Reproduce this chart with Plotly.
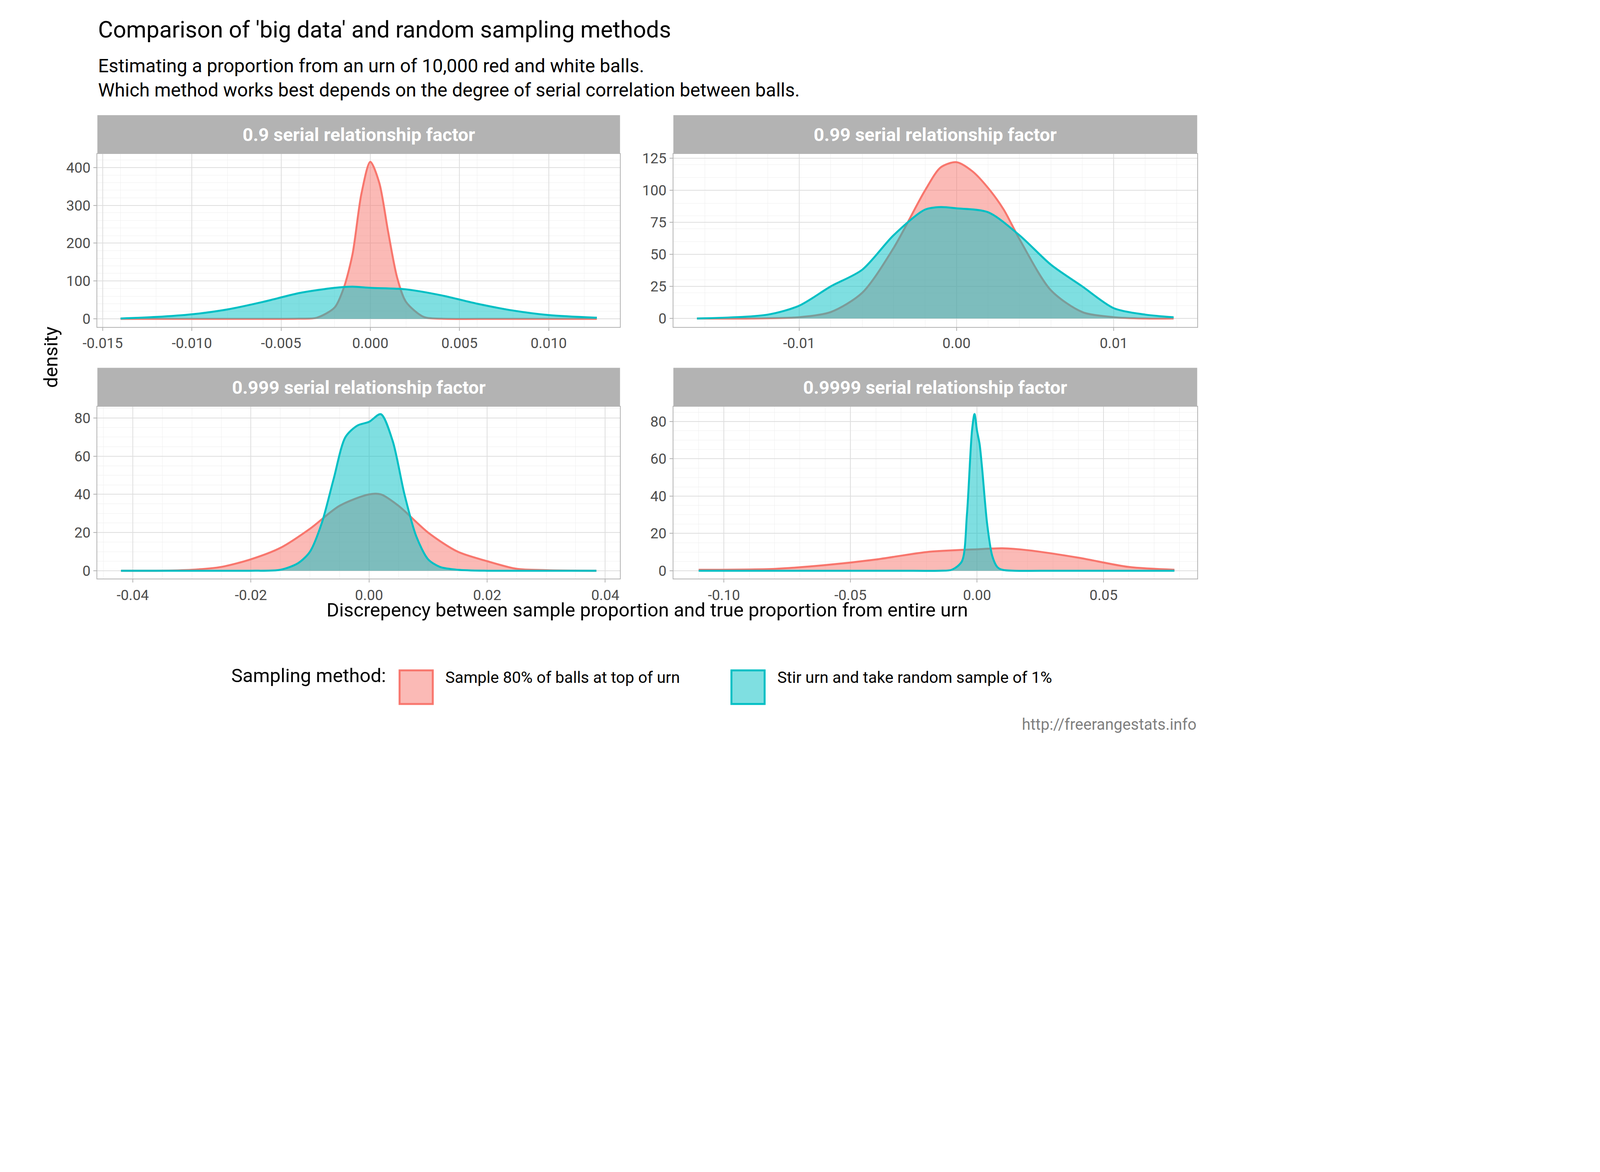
import plotly.graph_objects as go

# panel titles
panels = ["0.9 serial relationship factor", "0.99 serial relationship factor",
          "0.999 serial relationship factor", "0.9999 serial relationship factor"]

# red series: sample 80% of balls at top of urn
red_x = [
    [-0.014, -0.01, -0.006, -0.004, -0.003, -0.002, -0.0015, -0.001, -0.0005, 0, 0.0005, 0.001, 0.0015, 0.002, 0.003, 0.004, 0.007, 0.01, 0.0127],
    [-0.0165, -0.013, -0.01, -0.008, -0.006, -0.004, -0.002, -0.001, 0, 0.001, 0.002, 0.003, 0.004, 0.006, 0.008, 0.01, 0.012, 0.0138],
    [-0.042, -0.036, -0.03, -0.025, -0.02, -0.015, -0.01, -0.005, 0, 0.002, 0.005, 0.01, 0.015, 0.02, 0.025, 0.03, 0.0385],
    [-0.11, -0.08, -0.06, -0.04, -0.02, 0, 0.01, 0.02, 0.04, 0.06, 0.078],
]
red_y = [
    [0, 0, 0, 0.5, 3, 30, 80, 170, 330, 415, 360, 230, 110, 45, 5, 0.5, 0, 0, 0],
    [0, 0, 1, 5, 20, 55, 100, 118, 122, 115, 102, 85, 62, 22, 5, 1, 0, 0],
    [0, 0, 0.5, 2, 6, 12, 22, 34, 40, 40, 34, 20, 10, 5, 1, 0.3, 0],
    [0.5, 1, 3, 6, 10, 11.5, 12, 11, 7, 2, 0.5],
]
# blue series: stir urn and take random sample of 1%
blue_x = [
    [-0.014, -0.012, -0.010, -0.008, -0.006, -0.004, -0.002, -0.001, 0, 0.002, 0.004, 0.006, 0.008, 0.010, 0.0127],
    [-0.0165, -0.012, -0.01, -0.008, -0.006, -0.004, -0.002, -0.001, 0, 0.002, 0.004, 0.006, 0.008, 0.01, 0.012, 0.0138],
    [-0.042, -0.035, -0.028, -0.02, -0.015, -0.012, -0.01, -0.008, -0.006, -0.004, -0.002, 0, 0.002, 0.004, 0.006, 0.008, 0.01, 0.012, 0.015, 0.02, 0.028, 0.0385],
    [-0.11, -0.09, -0.07, -0.05, -0.03, -0.015, -0.01, -0.006, -0.004, -0.002, -0.001, 0, 0.001, 0.002, 0.004, 0.006, 0.008, 0.01, 0.015, 0.03, 0.05, 0.078],
]
blue_y = [
    [1, 5, 12, 25, 45, 68, 82, 85, 82, 78, 62, 40, 22, 10, 3],
    [0, 3, 10, 25, 38, 65, 85, 87, 86, 83, 65, 42, 25, 8, 3, 1],
    [0, 0, 0, 0, 0.5, 4, 10, 25, 48, 70, 76, 78, 82, 68, 40, 18, 6, 2, 0.5, 0, 0, 0],
    [0, 0, 0, 0, 0, 0, 0.5, 5, 30, 75, 84, 75, 68, 55, 25, 8, 2, 0.5, 0, 0, 0, 0],
]

x_tickvals = [[-0.015, -0.01, -0.005, 0, 0.005, 0.01], [-0.01, 0, 0.01],
              [-0.04, -0.02, 0, 0.02, 0.04], [-0.10, -0.05, 0, 0.05]]
x_ticktext = [["-0.015", "-0.010", "-0.005", "0.000", "0.005", "0.010"], ["-0.01", "0.00", "0.01"],
              ["-0.04", "-0.02", "0.00", "0.02", "0.04"], ["-0.10", "-0.05", "0.00", "0.05"]]
x_ranges = [[-0.0153, 0.014], [-0.018, 0.0153], [-0.046, 0.0425], [-0.12, 0.087]]
y_tickvals = [[0, 100, 200, 300, 400], [0, 25, 50, 75, 100, 125], [0, 20, 40, 60, 80], [0, 20, 40, 60, 80]]
y_ranges = [[-21, 436], [-6.5, 128.5], [-4.2, 86], [-4.3, 88]]

RED = "#F8766D"
BLUE = "#00BFC4"
FONT = "Roboto"

xdom = [[0.067, 0.508], [0.553, 0.995]]
ydom = [[0.571, 0.803], [0.233, 0.464]]

fig = go.Figure()
layout = {}
for i in range(4):
    r, c = divmod(i, 2)
    n = "" if i == 0 else str(i + 1)
    for xs, ys, col, fillc in [(red_x[i], red_y[i], RED, "rgba(248,118,109,0.5)"),
                               (blue_x[i], blue_y[i], BLUE, "rgba(0,191,196,0.5)")]:
        fig.add_trace(go.Scatter(x=xs, y=ys, mode="lines",
                                 line=dict(color=col, width=5, shape="spline", smoothing=0.8),
                                 fill="tozeroy", fillcolor=fillc, showlegend=False,
                                 xaxis="x" + n, yaxis="y" + n))
    axcommon = dict(showline=True, mirror=True, linecolor="#b3b3b3", linewidth=2,
                    gridcolor="#dedede", gridwidth=2, zeroline=False, ticks="outside",
                    ticklen=8, tickwidth=2, tickcolor="#b3b3b3",
                    tickfont=dict(family=FONT, size=37, color="#4d4d4d"),
                    minor=dict(showgrid=True, gridcolor="#efefef", gridwidth=1))
    layout["xaxis" + n] = dict(axcommon, domain=xdom[c], anchor="y" + n, range=x_ranges[i],
                               tickvals=x_tickvals[i], ticktext=x_ticktext[i])
    layout["yaxis" + n] = dict(axcommon, domain=ydom[r], anchor="x" + n, range=y_ranges[i],
                               tickvals=y_tickvals[i])

shapes = []
annotations = []
for i in range(4):
    r, c = divmod(i, 2)
    y0 = ydom[r][1]
    shapes.append(dict(type="rect", xref="paper", yref="paper", x0=xdom[c][0], x1=xdom[c][1],
                       y0=y0, y1=y0 + 0.052, fillcolor="#b3b3b3", line=dict(width=0)))
    annotations.append(dict(text="<b>" + panels[i] + "</b>", xref="paper", yref="paper",
                            x=(xdom[c][0] + xdom[c][1]) / 2, y=y0 + 0.026, showarrow=False,
                            xanchor="center", yanchor="middle",
                            font=dict(family=FONT, size=47, color="white")))

annotations += [
    dict(text="Comparison of 'big data' and random sampling methods", xref="paper", yref="paper",
         x=0.067, y=0.97, xanchor="left", yanchor="middle", showarrow=False,
         font=dict(family=FONT, size=59, color="black")),
    dict(text="Estimating a proportion from an urn of 10,000 red and white balls.<br>"
              "Which method works best depends on the degree of serial correlation between balls.",
         xref="paper", yref="paper", x=0.067, y=0.905, xanchor="left", yanchor="middle",
         showarrow=False, align="left", font=dict(family=FONT, size=48, color="black")),
    dict(text="density", xref="paper", yref="paper", x=0.018, y=0.53, textangle=-90,
         showarrow=False, font=dict(family=FONT, size=49, color="black")),
    dict(text="Discrepency between sample proportion and true proportion from entire urn",
         xref="paper", yref="paper", x=0.531, y=0.175, showarrow=False,
         font=dict(family=FONT, size=49, color="black")),
    dict(text="Sampling method:", xref="paper", yref="paper", x=0.311, y=0.087, xanchor="right",
         showarrow=False, font=dict(family=FONT, size=49, color="black")),
    dict(text="Sample 80% of balls at top of urn", xref="paper", yref="paper", x=0.36, y=0.087,
         xanchor="left", showarrow=False, font=dict(family=FONT, size=41, color="black")),
    dict(text="Stir urn and take random sample of 1%", xref="paper", yref="paper", x=0.64, y=0.087,
         xanchor="left", showarrow=False, font=dict(family=FONT, size=41, color="black")),
    dict(text="http://freerangestats.info", xref="paper", yref="paper", x=0.995, y=0.024,
         xanchor="right", showarrow=False, font=dict(family=FONT, size=40, color="#7f7f7f")),
]
for x0, col, fillc in [(0.322, RED, "rgba(248,118,109,0.5)"), (0.602, BLUE, "rgba(0,191,196,0.5)")]:
    shapes.append(dict(type="rect", xref="paper", yref="paper", x0=x0, x1=x0 + 0.028,
                       y0=0.065, y1=0.11, fillcolor=fillc, line=dict(color=col, width=5)))

fig.update_layout(width=3072, height=1920, margin=dict(l=0, r=0, t=0, b=0),
                  paper_bgcolor="white", plot_bgcolor="white",
                  shapes=shapes, annotations=annotations, **layout)
fig.write_html("out.html")
